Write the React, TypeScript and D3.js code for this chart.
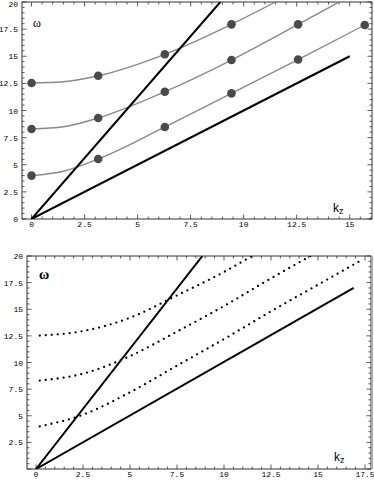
import React, { useRef, useEffect } from "react";
import * as d3 from "d3";

const PI = Math.PI;

// upper panel: gray dispersion curves, dots sit at multiples of pi
const dotK = [0, PI, 2 * PI, 3 * PI, 4 * PI, 5 * PI];
const band1Dots = [4.0, 5.53, 8.48, 11.58, 14.7, 17.88];
const band2Dots = [8.3, 9.31, 11.73, 14.65, 17.94];
const band3Dots = [12.53, 13.2, 15.18, 17.94];

const band1K = [0, 1.5, PI, 2 * PI, 3 * PI, 4 * PI, 5 * PI];
const band1W = [4.0, 4.4, 5.53, 8.48, 11.58, 14.7, 17.88];
const band2K = [0, 1.5, PI, 2 * PI, 3 * PI, 4 * PI, 14.5];
const band2W = [8.3, 8.5, 9.31, 11.73, 14.65, 17.94, 20];
const band3K = [0, 1.5, PI, 2 * PI, 3 * PI, 11.5];
const band3W = [12.53, 12.65, 13.2, 15.18, 17.94, 20];

// straight light lines (k, omega) end points
const steepTopK = [0, 8.9];
const steepTopW = [0, 20];
const shallowTopK = [0, 15];
const shallowTopW = [0, 15];

// lower panel: dotted curves
const dot1K = [0.2, 2.5, 5, 7.5, 10, 12.5, 15, 17.4];
const dot1W = [4.0, 5.1, 7.2, 9.7, 12.2, 14.8, 17.3, 19.7];
const dot2K = [0.2, 2.5, 5, 7.5, 10, 12.5, 14.6];
const dot2W = [8.3, 8.95, 10.6, 12.9, 15.3, 17.9, 20];
const dot3K = [0.2, 2.5, 5, 7.5, 10, 11.5];
const dot3W = [12.53, 12.95, 14.2, 16.3, 18.5, 20];

const steepBotK = [0, 8.85];
const steepBotW = [0, 20];
const shallowBotK = [0, 16.9];
const shallowBotW = [0, 17];

const topXTicks = [0, 2.5, 5, 7.5, 10, 12.5, 15];
const topYTicks = [0, 2.5, 5, 7.5, 10, 12.5, 15, 17.5, 20];
const botXTicks = [0, 2.5, 5, 7.5, 10, 12.5, 15, 17.5];
const botYTicks = [2.5, 5, 7.5, 10, 12.5, 15, 17.5, 20];

const zip = (ks: number[], ws: number[]) => ks.map((k, i) => [k, ws[i]] as [number, number]);

const drawFrame = (g, x, y, xTicks, yTicks, idx) => {
  const [x0, x1] = x.range();
  const [y0, y1] = y.range(); // y0 bottom, y1 top
  const mono = "Liberation Mono, DejaVu Sans Mono, monospace";

  g.append("clipPath")
    .attr("id", "clip" + idx)
    .append("rect")
    .attr("x", x0)
    .attr("y", y1)
    .attr("width", x1 - x0)
    .attr("height", y0 - y1);

  // minor + major ticks, all pointing inward
  const [dx0, dx1] = x.domain();
  const [dy0, dy1] = y.domain();
  const minorX = d3.range(Math.ceil(dx0 * 2) / 2, dx1 + 0.001, 0.5);
  const minorY = d3.range(Math.ceil(dy0 * 2) / 2, dy1 + 0.001, 0.5);
  const isMajor = (v) => Math.abs(v / 2.5 - Math.round(v / 2.5)) < 1e-6;

  const ticks = g.append("g").attr("stroke", "#333").attr("stroke-width", 0.8);
  minorX.forEach((v) => {
    const len = isMajor(v) ? 4.5 : 2.5;
    const px = x(v);
    ticks.append("line").attr("x1", px).attr("x2", px).attr("y1", y0).attr("y2", y0 - len);
    ticks.append("line").attr("x1", px).attr("x2", px).attr("y1", y1).attr("y2", y1 + len);
  });
  minorY.forEach((v) => {
    const len = isMajor(v) ? 4.5 : 2.5;
    const py = y(v);
    ticks.append("line").attr("y1", py).attr("y2", py).attr("x1", x0).attr("x2", x0 + len);
    ticks.append("line").attr("y1", py).attr("y2", py).attr("x1", x1).attr("x2", x1 - len);
  });

  g.append("rect")
    .attr("x", x0)
    .attr("y", y1)
    .attr("width", x1 - x0)
    .attr("height", y0 - y1)
    .attr("fill", "none")
    .attr("stroke", "#333")
    .attr("stroke-width", 1);

  g.append("g")
    .selectAll("text")
    .data(xTicks)
    .join("text")
    .attr("x", (d) => x(d))
    .attr("y", y0 + 8)
    .attr("text-anchor", "middle")
    .style("font-family", mono)
    .style("font-size", "8px")
    .text((d) => String(d));

  // keep the top label inside the page
  g.append("g")
    .selectAll("text")
    .data(yTicks)
    .join("text")
    .attr("x", x0 - 4)
    .attr("y", (d) => Math.max(y(d) + 3, 7))
    .attr("text-anchor", "end")
    .style("font-family", mono)
    .style("font-size", "8px")
    .text((d) => String(d));
};

const App = () => {
  const svgRef = useRef(null);

  useEffect(() => {
    const svg = d3.select(svgRef.current);
    svg.selectAll("*").remove();

    const line = (x, y) =>
      d3
        .line()
        .x((d) => x(d[0]))
        .y((d) => y(d[1]));

    // ---------- upper panel ----------
    const xTop = d3.scaleLinear().domain([-0.45, 16.05]).range([22, 372]);
    const yTop = d3.scaleLinear().domain([0, 20]).range([219, 2]);
    const gTop = svg.append("g");
    drawFrame(gTop, xTop, yTop, topXTicks, topYTicks, 0);

    const plotTop = gTop.append("g").attr("clip-path", "url(#clip0)");
    const smooth = line(xTop, yTop).curve(d3.curveMonotoneX);
    [
      [band1K, band1W],
      [band2K, band2W],
      [band3K, band3W],
    ].forEach(([k, w]) => {
      plotTop
        .append("path")
        .datum(zip(k, w))
        .attr("fill", "none")
        .attr("stroke", "#8a8a8a")
        .attr("stroke-width", 1.4)
        .attr("d", smooth);
    });

    const straightTop = line(xTop, yTop);
    [
      [steepTopK, steepTopW],
      [shallowTopK, shallowTopW],
    ].forEach(([k, w]) => {
      plotTop
        .append("path")
        .datum(zip(k, w))
        .attr("fill", "none")
        .attr("stroke", "#000")
        .attr("stroke-width", 2)
        .attr("d", straightTop);
    });

    [band1Dots, band2Dots, band3Dots].forEach((w) => {
      gTop
        .append("g")
        .selectAll("circle")
        .data(zip(dotK.slice(0, w.length), w))
        .join("circle")
        .attr("cx", (d) => xTop(d[0]))
        .attr("cy", (d) => yTop(d[1]))
        .attr("r", 4.3)
        .attr("fill", "#4a4a4a");
    });

    gTop
      .append("text")
      .attr("x", 37)
      .attr("y", 27)
      .attr("text-anchor", "middle")
      .style("font-family", "Liberation Serif, serif")
      .style("font-size", "12px")
      .text("ω");

    const kzTop = gTop
      .append("text")
      .attr("x", 333)
      .attr("y", 212)
      .style("font-family", "Liberation Sans, sans-serif")
      .style("font-size", "12px")
      .text("k");
    kzTop.append("tspan").attr("dy", 2).style("font-size", "9px").text("z");

    // ---------- lower panel ----------
    const xBot = d3.scaleLinear().domain([-0.48, 17.82]).range([27, 371]);
    const yBot = d3.scaleLinear().domain([0, 20]).range([469, 256]);
    const gBot = svg.append("g");
    drawFrame(gBot, xBot, yBot, botXTicks, botYTicks, 1);

    const plotBot = gBot.append("g").attr("clip-path", "url(#clip1)");
    const smoothBot = line(xBot, yBot).curve(d3.curveMonotoneX);
    [
      [dot1K, dot1W],
      [dot2K, dot2W],
      [dot3K, dot3W],
    ].forEach(([k, w]) => {
      plotBot
        .append("path")
        .datum(zip(k, w))
        .attr("fill", "none")
        .attr("stroke", "#000")
        .attr("stroke-width", 2.3)
        .attr("stroke-linecap", "round")
        .attr("stroke-dasharray", "0 6")
        .attr("d", smoothBot);
    });

    const straightBot = line(xBot, yBot);
    [
      [steepBotK, steepBotW],
      [shallowBotK, shallowBotW],
    ].forEach(([k, w]) => {
      plotBot
        .append("path")
        .datum(zip(k, w))
        .attr("fill", "none")
        .attr("stroke", "#000")
        .attr("stroke-width", 2)
        .attr("d", straightBot);
    });

    gBot
      .append("text")
      .attr("x", 44)
      .attr("y", 279)
      .attr("text-anchor", "middle")
      .style("font-family", "Liberation Serif, serif")
      .style("font-size", "14px")
      .style("font-weight", "bold")
      .text("ω");

    const kzBot = gBot
      .append("text")
      .attr("x", 334)
      .attr("y", 461)
      .style("font-family", "Liberation Sans, sans-serif")
      .style("font-size", "12px")
      .text("k");
    kzBot.append("tspan").attr("dy", 2).style("font-size", "9px").text("z");

    // grey strip on the right edge of the lower frame
    gBot
      .append("line")
      .attr("x1", 372)
      .attr("x2", 372)
      .attr("y1", 256)
      .attr("y2", 469)
      .attr("stroke", "#aaa")
      .attr("stroke-width", 2);
  }, []);

  return (
    <svg
      ref={svgRef}
      width={374}
      height={480}
      style={{ position: "absolute", left: 0, top: 0, background: "#fff" }}
    ></svg>
  );
};

export default App;
